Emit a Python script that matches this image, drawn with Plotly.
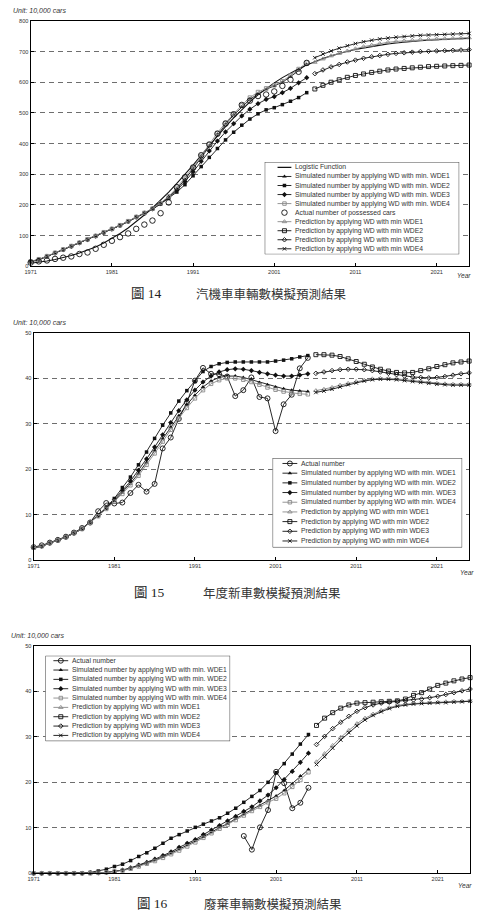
import plotly.graph_objects as go

# ---------------- data ----------------
YEARS_HIST = list(range(1971, 2006))
YEARS_PRED = list(range(2006, 2026))
YEARS_ALL = list(range(1971, 2026))
YEARS_ACT3 = list(range(1997, 2006))
TICK_YEARS = [1971, 1981, 1991, 2001, 2011, 2021]
TICK_LABELS = ["1971", "1981", "1991", "2001", "2011", "2021"]

# Panel 1 : possessed cars
logistic_1 = [10, 13, 17, 22, 28, 35, 43, 52, 63, 76, 91, 107, 125, 145, 167, 190, 215, 242, 270, 299,
              330, 362, 394, 425, 455, 484, 511, 536, 559, 580, 598, 615, 630, 644, 656, 667, 677, 686, 694, 701,
              707, 712, 717, 721, 725, 728, 731, 733, 735, 737, 739, 740, 741, 742, 743]
actual_1 = [12, 16, 19, 24, 28, 32, 40, 45, 57, 70, 83, 95, 107, 122, 136, 149, 173, 208, 258, 290,
            322, 362, 397, 432, 465, 495, 526, 540, 555, 560, 570, 588, 608, 634, 663]
sim_wde1_1 = [15, 22, 32, 43, 54, 65, 76, 87, 98, 110, 121, 133, 146, 160, 173, 187, 205, 226, 252, 283,
              318, 355, 393, 430, 463, 493, 520, 544, 562, 577, 588, 600, 618, 638, 658]
sim_wde2_1 = [15, 22, 32, 43, 54, 65, 76, 87, 98, 110, 121, 133, 146, 160, 172, 186, 203, 222, 242, 266,
              295, 325, 355, 384, 412, 437, 460, 480, 497, 510, 517, 527, 538, 550, 566]
sim_wde3_1 = [15, 22, 32, 43, 54, 65, 76, 87, 98, 110, 121, 133, 146, 160, 173, 187, 204, 224, 248, 276,
              308, 342, 376, 408, 438, 465, 490, 512, 530, 544, 553, 566, 580, 598, 615]
sim_wde4_1 = [16, 23, 33, 44, 55, 66, 77, 88, 99, 111, 122, 134, 147, 161, 174, 188, 206, 228, 256, 288,
              323, 360, 398, 435, 468, 498, 525, 550, 568, 580, 590, 603, 622, 643, 664]
pred_wde1_1 = [665, 676, 686, 694, 702, 709, 716, 721, 726, 730, 733, 735, 737, 739, 740, 741, 742, 743, 744, 745]
pred_wde2_1 = [578, 590, 600, 608, 616, 622, 627, 632, 636, 640, 643, 645, 647, 649, 651, 652, 653, 654, 655, 656]
pred_wde3_1 = [628, 640, 650, 658, 666, 672, 678, 683, 687, 691, 694, 696, 698, 700, 701, 702, 703, 704, 705, 706]
pred_wde4_1 = [680, 692, 702, 711, 719, 726, 732, 737, 741, 744, 747, 749, 751, 753, 754, 755, 756, 757, 758, 759]

# Panel 2 : new cars per year
actual_2 = [2.9, 3.3, 3.9, 4.5, 5.2, 6.1, 7.1, 8.3, 10.8, 12.6, 12.5, 12.7, 14.8, 16.6, 15.1, 16.8, 24.6, 27.0,
            31.1, 34.7, 39.5, 42.3, 41.0, 40.9, 40.4, 36.1, 37.4, 40.2, 35.9, 35.6, 28.4, 34.3, 36.4, 42.2, 44.5]
sim_wde1_2 = [2.8, 3.1, 3.8, 4.4, 5.1, 6.0, 6.9, 8.4, 9.8, 11.4, 13.1, 14.9, 16.9, 19.1, 21.5, 24.1, 26.7, 29.3,
              31.8, 34.2, 36.3, 38.1, 39.4, 40.2, 40.5, 40.5, 40.2, 39.7, 39.1, 38.6, 38.1, 37.7, 37.4, 37.2, 37.1]
sim_wde2_2 = [2.8, 3.1, 3.8, 4.4, 5.1, 6.0, 6.9, 8.4, 9.9, 11.6, 13.6, 16.0, 18.3, 21.0, 23.8, 26.8, 29.7, 32.4,
              35.0, 37.3, 39.3, 41.5, 42.6, 43.2, 43.5, 43.6, 43.6, 43.6, 43.6, 43.6, 43.8, 44.0, 44.3, 44.7, 45.0]
sim_wde3_2 = [2.8, 3.1, 3.8, 4.4, 5.1, 6.0, 6.9, 8.4, 9.8, 11.5, 13.3, 15.3, 17.4, 19.8, 22.3, 24.9, 27.6, 30.3,
              32.9, 35.3, 37.4, 39.2, 40.5, 41.4, 41.9, 42.1, 42.0, 41.7, 41.3, 41.0, 40.7, 40.5, 40.5, 40.7, 41.0]
sim_wde4_2 = [2.8, 3.1, 3.8, 4.4, 5.1, 6.0, 6.9, 8.3, 9.7, 11.3, 12.9, 14.6, 16.5, 18.6, 21.0, 23.5, 26.1, 28.7,
              31.2, 33.5, 35.6, 37.4, 38.8, 39.6, 40.0, 40.0, 39.7, 39.2, 38.6, 38.0, 37.5, 37.1, 36.8, 36.6, 36.5]
pred_wde1_2 = [37.3, 37.6, 38.0, 38.5, 38.9, 39.3, 39.6, 39.9, 40.0, 40.0, 39.9, 39.7, 39.5, 39.3, 39.1, 38.9, 38.8, 38.7, 38.7, 38.7]
pred_wde2_2 = [45.2, 45.2, 45.1, 44.8, 44.3, 43.7, 43.1, 42.5, 42.0, 41.6, 41.3, 41.2, 41.3, 41.7, 42.1, 42.6, 43.0, 43.4, 43.6, 43.8]
pred_wde3_2 = [41.1, 41.4, 41.7, 41.9, 42.0, 42.0, 41.9, 41.7, 41.4, 41.1, 40.8, 40.5, 40.3, 40.2, 40.1, 40.2, 40.4, 40.7, 41.0, 41.2]
pred_wde4_2 = [36.9, 37.2, 37.6, 38.1, 38.6, 39.0, 39.4, 39.7, 39.8, 39.8, 39.7, 39.5, 39.3, 39.1, 38.9, 38.7, 38.6, 38.5, 38.5, 38.5]

# Panel 3 : scrapped cars
actual_3 = [8.2, 5.2, 10.1, 13.9, 22.3, 19.8, 14.3, 15.5, 18.8]
sim_wde1_3 = [0.0, 0.0, 0.0, 0.0, 0.0, 0.0, 0.0, 0.0, 0.1, 0.2, 0.4, 0.7, 1.1, 1.7, 2.2, 2.9, 3.6, 4.4,
              5.3, 6.2, 7.1, 8.0, 9.0, 10.1, 10.9, 12.0, 13.0, 14.0, 14.9, 16.0, 17.0, 18.2, 19.7, 21.4, 22.8]
sim_wde2_3 = [0.0, 0.0, 0.0, 0.0, 0.0, 0.1, 0.1, 0.2, 0.5, 0.9, 1.5, 2.0, 2.8, 3.7, 4.5, 5.5, 6.6, 7.7,
              8.5, 9.3, 10.1, 10.8, 11.5, 12.2, 13.2, 14.3, 15.6, 16.9, 18.2, 20.0, 22.1, 24.1, 26.2, 28.4, 30.5]
sim_wde3_3 = [0.0, 0.0, 0.0, 0.0, 0.0, 0.0, 0.0, 0.1, 0.1, 0.2, 0.4, 0.7, 1.2, 1.8, 2.4, 3.1, 3.9, 4.7,
              5.7, 6.6, 7.4, 8.5, 9.5, 10.5, 11.5, 12.5, 13.6, 14.6, 15.9, 17.2, 18.8, 20.6, 22.4, 24.4, 26.4]
sim_wde4_3 = [0.0, 0.0, 0.0, 0.0, 0.0, 0.0, 0.0, 0.0, 0.1, 0.2, 0.4, 0.6, 1.0, 1.5, 2.1, 2.7, 3.4, 4.2,
              5.0, 5.9, 6.8, 7.8, 8.8, 9.8, 10.7, 11.7, 12.7, 13.7, 14.6, 15.6, 16.4, 17.6, 19.0, 20.5, 22.2]
pred_wde1_3 = [24.5, 26.3, 28.1, 29.9, 31.4, 32.9, 34.1, 35.0, 35.8, 36.4, 36.9, 37.2, 37.3, 37.5, 37.5, 37.6, 37.7, 37.8, 37.8, 37.9]
pred_wde2_3 = [32.5, 34.1, 35.3, 36.3, 37.0, 37.4, 37.5, 37.6, 37.7, 37.8, 37.9, 38.3, 39.1, 39.7, 40.5, 41.3, 41.8, 42.3, 42.7, 43.0]
pred_wde3_3 = [28.3, 30.1, 31.8, 33.2, 34.5, 35.6, 36.4, 37.0, 37.4, 37.6, 37.8, 37.9, 38.1, 38.3, 38.6, 38.9, 39.3, 39.7, 40.1, 40.5]
pred_wde4_3 = [23.9, 25.6, 27.5, 29.3, 30.9, 32.4, 33.7, 34.7, 35.5, 36.2, 36.7, 37.0, 37.2, 37.3, 37.4, 37.5, 37.5, 37.6, 37.7, 37.8]

LBL_LOGISTIC = "Logistic Function"
LBL_SIM = ["Simulated number by applying WD with min. WDE%d" % i for i in range(1, 5)]
LBL_PRED = ["Prediction by applying WD with min WDE%d" % i for i in range(1, 5)]
LBL_ACTUAL_1 = "Actual number of possessed cars"
LBL_ACTUAL = "Actual number"
UNIT_TEXT = "Unit: 10,000 cars"
CAPTIONS = [("圖 14", "汽機車車輛數模擬預測結果"),
            ("圖 15", "年度新車數模擬預測結果"),
            ("圖 16", "廢棄車輛數模擬預測結果")]

# ---------------- styles ----------------
BLK = "#111111"
GRY = "#8a8a8a"
STYLE = {
    "logistic": dict(mode="lines", line=dict(color=BLK, width=1.1)),
    "sim1": dict(mode="lines+markers", line=dict(color=BLK, width=0.9),
                 marker=dict(symbol="triangle-up", size=4, color=BLK, line=dict(width=0))),
    "sim2": dict(mode="lines+markers", line=dict(color=BLK, width=0.9),
                 marker=dict(symbol="square", size=3.5, color=BLK, line=dict(width=0))),
    "sim3": dict(mode="lines+markers", line=dict(color=BLK, width=0.9),
                 marker=dict(symbol="diamond", size=4, color=BLK, line=dict(width=0))),
    "sim4": dict(mode="lines+markers", line=dict(color=GRY, width=0.9),
                 marker=dict(symbol="square-open", size=3.5, color=GRY, line=dict(width=0.9, color=GRY))),
    "act_pts": dict(mode="markers",
                    marker=dict(symbol="circle-open", size=5.5, color=BLK, line=dict(width=0.9, color=BLK))),
    "act_line": dict(mode="lines+markers", line=dict(color=BLK, width=0.9),
                     marker=dict(symbol="circle-open", size=5, color=BLK, line=dict(width=0.9, color=BLK))),
    "pred1": dict(mode="lines+markers", line=dict(color=GRY, width=0.9),
                  marker=dict(symbol="triangle-up-open", size=4, color=GRY, line=dict(width=0.9, color=GRY))),
    "pred2": dict(mode="lines+markers", line=dict(color=BLK, width=0.9),
                  marker=dict(symbol="square-open", size=4, color=BLK, line=dict(width=0.9, color=BLK))),
    "pred3": dict(mode="lines+markers", line=dict(color=BLK, width=0.9),
                  marker=dict(symbol="diamond-open", size=3.5, color=BLK, line=dict(width=0.9, color=BLK))),
    "pred4": dict(mode="lines+markers", line=dict(color=BLK, width=0.9),
                  marker=dict(symbol="x-thin-open", size=3.5, color=BLK, line=dict(width=0.9, color=BLK))),
}

W, H = 477, 923
def fx(p):
    return p / W
def fy(p):
    return 1 - p / H

PANELS = [
    dict(plot=(25, 18, 469, 265), yrange=[0, 800], dtick=100,
         series=[("logistic", YEARS_ALL, logistic_1),
                 ("sim1", YEARS_HIST, sim_wde1_1), ("sim2", YEARS_HIST, sim_wde2_1),
                 ("sim3", YEARS_HIST, sim_wde3_1), ("sim4", YEARS_HIST, sim_wde4_1),
                 ("act_pts", YEARS_HIST, actual_1),
                 ("pred1", YEARS_PRED, pred_wde1_1), ("pred2", YEARS_PRED, pred_wde2_1),
                 ("pred3", YEARS_PRED, pred_wde3_1), ("pred4", YEARS_PRED, pred_wde4_1)],
         legend=[("logistic", LBL_LOGISTIC), ("sim1", LBL_SIM[0]), ("sim2", LBL_SIM[1]),
                 ("sim3", LBL_SIM[2]), ("sim4", LBL_SIM[3]), ("act_pts", LBL_ACTUAL_1),
                 ("pred1", LBL_PRED[0]), ("pred2", LBL_PRED[1]), ("pred3", LBL_PRED[2]),
                 ("pred4", LBL_PRED[3])],
         lbox=(262, 160, 459, 253), lrow0=165.5, lgap=9.1, lsample=(275, 289), ltext=292,
         unit=(5, 8), year=(464, 274), cap=(125, 190, 292)),
    dict(plot=(28, 332, 469, 561), yrange=[0, 50], dtick=10,
         series=[("act_line", YEARS_HIST, actual_2),
                 ("sim1", YEARS_HIST, sim_wde1_2), ("sim2", YEARS_HIST, sim_wde2_2),
                 ("sim3", YEARS_HIST, sim_wde3_2), ("sim4", YEARS_HIST, sim_wde4_2),
                 ("pred1", YEARS_PRED, pred_wde1_2), ("pred2", YEARS_PRED, pred_wde2_2),
                 ("pred3", YEARS_PRED, pred_wde3_2), ("pred4", YEARS_PRED, pred_wde4_2)],
         legend=[("act_line", LBL_ACTUAL), ("sim1", LBL_SIM[0]), ("sim2", LBL_SIM[1]),
                 ("sim3", LBL_SIM[2]), ("sim4", LBL_SIM[3]),
                 ("pred1", LBL_PRED[0]), ("pred2", LBL_PRED[1]), ("pred3", LBL_PRED[2]),
                 ("pred4", LBL_PRED[3])],
         lbox=(270, 458, 462, 548), lrow0=463.5, lgap=9.75, lsample=(280, 295), ltext=298,
         unit=(5, 322), year=(467, 573), cap=(128, 197, 593)),
    dict(plot=(28, 647, 470, 876), yrange=[0, 50], dtick=10,
         series=[("act_line", YEARS_ACT3, actual_3),
                 ("sim1", YEARS_HIST, sim_wde1_3), ("sim2", YEARS_HIST, sim_wde2_3),
                 ("sim3", YEARS_HIST, sim_wde3_3), ("sim4", YEARS_HIST, sim_wde4_3),
                 ("pred1", YEARS_PRED, pred_wde1_3), ("pred2", YEARS_PRED, pred_wde2_3),
                 ("pred3", YEARS_PRED, pred_wde3_3), ("pred4", YEARS_PRED, pred_wde4_3)],
         legend=[("act_line", LBL_ACTUAL), ("sim1", LBL_SIM[0]), ("sim2", LBL_SIM[1]),
                 ("sim3", LBL_SIM[2]), ("sim4", LBL_SIM[3]),
                 ("pred1", LBL_PRED[0]), ("pred2", LBL_PRED[1]), ("pred3", LBL_PRED[2]),
                 ("pred4", LBL_PRED[3])],
         lbox=(40, 657, 227, 743), lrow0=662, lgap=9.4, lsample=(48, 63), ltext=66,
         unit=(3, 637), year=(465, 888), cap=(131, 198, 906)),
]

TICKFONT = dict(size=5.6, family="Liberation Sans, Arial, sans-serif", color="#333")
fig = go.Figure()
layout = dict(width=W, height=H, autosize=False, margin=dict(l=0, r=0, t=0, b=0),
              paper_bgcolor="white", plot_bgcolor="white", showlegend=False)
annotations = []

for i, p in enumerate(PANELS):
    n = i + 1
    xn, yn = ("x", "y") if n == 1 else ("x%d" % n, "y%d" % n)
    xk, yk = ("xaxis", "yaxis") if n == 1 else ("xaxis%d" % n, "yaxis%d" % n)
    l, t, r, b = p["plot"]
    layout[xk] = dict(domain=[fx(l), fx(r)], range=[1971, 2025], anchor=yn,
                      tickmode="array", tickvals=TICK_YEARS, ticktext=TICK_LABELS,
                      ticks="inside", ticklen=3, tickcolor="#000", tickwidth=1,
                      showline=True, linecolor="#000", linewidth=1.2, mirror=True,
                      showgrid=False, zeroline=False, tickfont=TICKFONT, fixedrange=True)
    layout[yk] = dict(domain=[fy(b), fy(t)], range=p["yrange"], anchor=xn,
                      tickmode="linear", tick0=0, dtick=p["dtick"],
                      ticks="inside", ticklen=3, tickcolor="#000", tickwidth=1,
                      showline=True, linecolor="#000", linewidth=1.2, mirror=True,
                      showgrid=True, gridcolor="#6e6e6e", gridwidth=1, griddash="5px,4px",
                      zeroline=False, tickfont=TICKFONT, fixedrange=True)
    for key, xs, ys in p["series"]:
        st = STYLE[key]
        fig.add_trace(go.Scatter(x=xs, y=ys, xaxis=xn, yaxis=yn, cliponaxis=False,
                                 showlegend=False, hoverinfo="skip", **st))

    # ---- legend box drawn on its own hidden axes (pixel units inside the box) ----
    ln = n + 3
    lxn, lyn = "x%d" % ln, "y%d" % ln
    bx0, by0, bx1, by1 = p["lbox"]
    bw, bh = bx1 - bx0, by1 - by0
    layout["xaxis%d" % ln] = dict(domain=[fx(bx0), fx(bx1)], range=[0, bw], visible=False,
                                  anchor=lyn, fixedrange=True)
    layout["yaxis%d" % ln] = dict(domain=[fy(by1), fy(by0)], range=[bh, 0], visible=False,
                                  anchor=lxn, fixedrange=True)
    fig.add_trace(go.Scatter(x=[0, bw, bw, 0, 0], y=[0, 0, bh, bh, 0], mode="lines",
                             fill="toself", fillcolor="white", line=dict(color="#333", width=1),
                             xaxis=lxn, yaxis=lyn, showlegend=False, hoverinfo="skip",
                             cliponaxis=False))
    s0, s1 = p["lsample"][0] - bx0, p["lsample"][1] - bx0
    for j, (key, label) in enumerate(p["legend"]):
        ry = p["lrow0"] + j * p["lgap"] - by0
        st = STYLE[key]
        if "lines" in st["mode"]:
            fig.add_trace(go.Scatter(x=[s0, s1], y=[ry, ry], mode="lines", line=st["line"],
                                     xaxis=lxn, yaxis=lyn, showlegend=False, hoverinfo="skip"))
        if "markers" in st["mode"]:
            fig.add_trace(go.Scatter(x=[(s0 + s1) / 2], y=[ry], mode="markers", marker=st["marker"],
                                     xaxis=lxn, yaxis=lyn, showlegend=False, hoverinfo="skip",
                                     cliponaxis=False))
        annotations.append(dict(xref=lxn, yref=lyn, x=p["ltext"] - bx0, y=ry, text=label,
                                showarrow=False, xanchor="left", yanchor="middle", borderpad=0,
                                font=dict(size=6.8, family="Liberation Sans, Arial, sans-serif",
                                          color="#333")))

    # ---- texts ----
    ux, uy = p["unit"]
    annotations.append(dict(xref="paper", yref="paper", x=fx(ux), y=fy(uy), text="<i>%s</i>" % UNIT_TEXT,
                            showarrow=False, xanchor="left", yanchor="middle",
                            font=dict(size=7, family="Liberation Sans, Arial, sans-serif", color="#333")))
    yx, yy = p["year"]
    annotations.append(dict(xref="paper", yref="paper", x=fx(yx), y=fy(yy), text="<i>Year</i>",
                            showarrow=False, xanchor="center", yanchor="middle",
                            font=dict(size=6.6, family="Liberation Sans, Arial, sans-serif", color="#333")))
    cx1, cx2, cy = p["cap"]
    annotations.append(dict(xref="paper", yref="paper", x=fx(cx1), y=fy(cy), text=CAPTIONS[i][0],
                            showarrow=False, xanchor="left", yanchor="middle",
                            font=dict(size=13.5, family="Liberation Serif, Noto Sans CJK TC, serif",
                                      color="#222")))
    annotations.append(dict(xref="paper", yref="paper", x=fx(cx2), y=fy(cy), text=CAPTIONS[i][1],
                            showarrow=False, xanchor="left", yanchor="middle",
                            font=dict(size=12.5, family="Noto Sans CJK TC, sans-serif", color="#333")))

layout["annotations"] = annotations
fig.update_layout(**layout)
fig.write_html("out.html")
